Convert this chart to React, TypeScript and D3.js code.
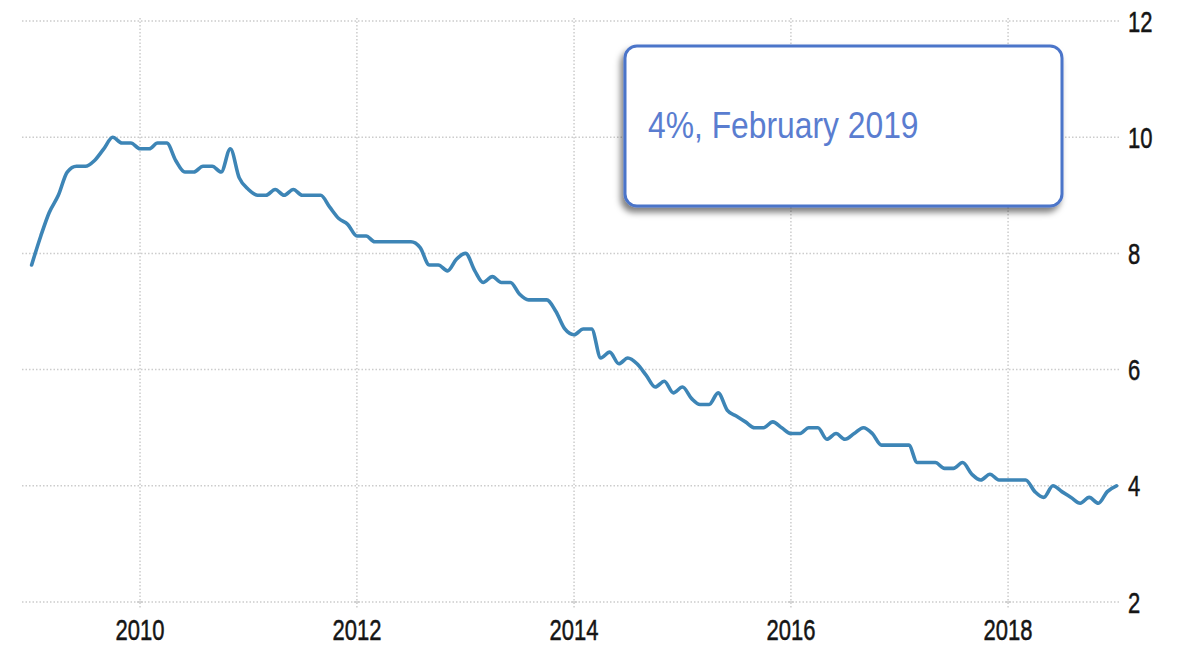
import React from "react";
import * as d3 from "d3";

const startYear = 2009;
const rates2009 = [7.8, 8.3, 8.7, 9.0, 9.4, 9.5, 9.5, 9.6, 9.8, 10.0, 9.9, 9.9];
const rates2010 = [9.8, 9.8, 9.9, 9.9, 9.6, 9.4, 9.4, 9.5, 9.5, 9.4, 9.8, 9.3];
const rates2011 = [9.1, 9.0, 9.0, 9.1, 9.0, 9.1, 9.0, 9.0, 9.0, 8.8, 8.6, 8.5];
const rates2012 = [8.3, 8.3, 8.2, 8.2, 8.2, 8.2, 8.2, 8.1, 7.8, 7.8, 7.7, 7.9];
const rates2013 = [8.0, 7.7, 7.5, 7.6, 7.5, 7.5, 7.3, 7.2, 7.2, 7.2, 7.0, 6.7];
const rates2014 = [6.6, 6.7, 6.7, 6.2, 6.3, 6.1, 6.2, 6.1, 5.9, 5.7, 5.8, 5.6];
const rates2015 = [5.7, 5.5, 5.4, 5.4, 5.6, 5.3, 5.2, 5.1, 5.0, 5.0, 5.1, 5.0];
const rates2016 = [4.9, 4.9, 5.0, 5.0, 4.8, 4.9, 4.8, 4.9, 5.0, 4.9, 4.7, 4.7];
const rates2017 = [4.7, 4.7, 4.4, 4.4, 4.4, 4.3, 4.3, 4.4, 4.2, 4.1, 4.2, 4.1];
const rates2018 = [4.1, 4.1, 4.1, 3.9, 3.8, 4.0, 3.9, 3.8, 3.7, 3.8, 3.7, 3.9];
const rates2019 = [4.0];

const yTicks = [2, 4, 6, 8, 10, 12];
const xTickYears = [2010, 2012, 2014, 2016, 2018];
const calloutText = "4%, February 2019";

const allRates = [
  ...rates2009, ...rates2010, ...rates2011, ...rates2012, ...rates2013,
  ...rates2014, ...rates2015, ...rates2016, ...rates2017, ...rates2018, ...rates2019,
];
const data = allRates.map((v, i) => ({
  date: new Date(startYear + Math.floor(i / 12), i % 12, 1),
  value: v,
}));

const W = 1182;
const H = 647;

export default function App() {
  const x = d3
    .scaleTime()
    .domain([new Date(2009, 0, 1), new Date(2019, 0, 1)])
    .range([31.6, 1116.5]);
  const y = d3.scaleLinear().domain([2, 12]).range([602, 21]);

  const line = d3
    .line<{ date: Date; value: number }>()
    .x((d) => x(d.date))
    .y((d) => y(d.value))
    .curve(d3.curveMonotoneX);

  const gridColor = "#cccccc";
  const labelFont = "'Liberation Sans', Arial, sans-serif";

  return (
    <svg
      width={W}
      height={H}
      style={{ position: "absolute", left: 0, top: 0, background: "#fff" }}
    >
      <defs>
        <filter id="shadow" x="-10%" y="-20%" width="120%" height="150%">
          <feDropShadow dx={-3} dy={5} stdDeviation={3} floodColor="#000" floodOpacity={0.5} />
        </filter>
      </defs>
      {/* horizontal grid */}
      {yTicks.map((t) => (
        <line
          key={"h" + t}
          x1={22}
          x2={1120}
          y1={y(t)}
          y2={y(t)}
          stroke={gridColor}
          strokeWidth={1.5}
          strokeDasharray="1.5,2"
        />
      ))}
      {/* vertical grid */}
      {xTickYears.map((yr) => (
        <g key={"v" + yr}>
          <line
            x1={x(new Date(yr, 0, 1))}
            x2={x(new Date(yr, 0, 1))}
            y1={18}
            y2={609}
            stroke={gridColor}
            strokeWidth={1.5}
            strokeDasharray="1.5,2"
          />
          <line
            x1={x(new Date(yr, 0, 1)) - 3}
            x2={x(new Date(yr, 0, 1)) + 3}
            y1={y(2)}
            y2={y(2)}
            stroke={gridColor}
            strokeWidth={1.5}
          />
        </g>
      ))}
      {/* x labels */}
      {xTickYears.map((yr) => (
        <text
          key={"xl" + yr}
          transform={`translate(${x(new Date(yr, 0, 1))},${640}) scale(0.76,1)`}
          textAnchor="middle"
          fontFamily={labelFont}
          fontSize={29}
          fill="#151515"
          stroke="#151515"
          strokeWidth={0.5}
        >
          {yr}
        </text>
      ))}
      {/* y labels */}
      {yTicks.map((t) => (
        <text
          key={"yl" + t}
          transform={`translate(${1128},${y(t) + 10.5}) scale(0.76,1)`}
          textAnchor="start"
          fontFamily={labelFont}
          fontSize={29}
          fill="#151515"
          stroke="#151515"
          strokeWidth={0.5}
        >
          {t}
        </text>
      ))}
      {/* series line */}
      <path
        d={line(data) || ""}
        fill="none"
        stroke="#3d85b6"
        strokeWidth={3.6}
        strokeLinejoin="round"
        strokeLinecap="round"
      />
      {/* callout */}
      <rect
        x={625}
        y={46}
        width={437}
        height={160}
        rx={12}
        ry={12}
        fill="#fff"
        stroke="#4b74c9"
        strokeWidth={3}
        filter="url(#shadow)"
      />
      <text
        transform={`translate(${648},${138}) scale(0.86,1)`}
        fontFamily={labelFont}
        fontSize={37}
        fill="#5a7dd0"
      >
        {calloutText}
      </text>
    </svg>
  );
}
